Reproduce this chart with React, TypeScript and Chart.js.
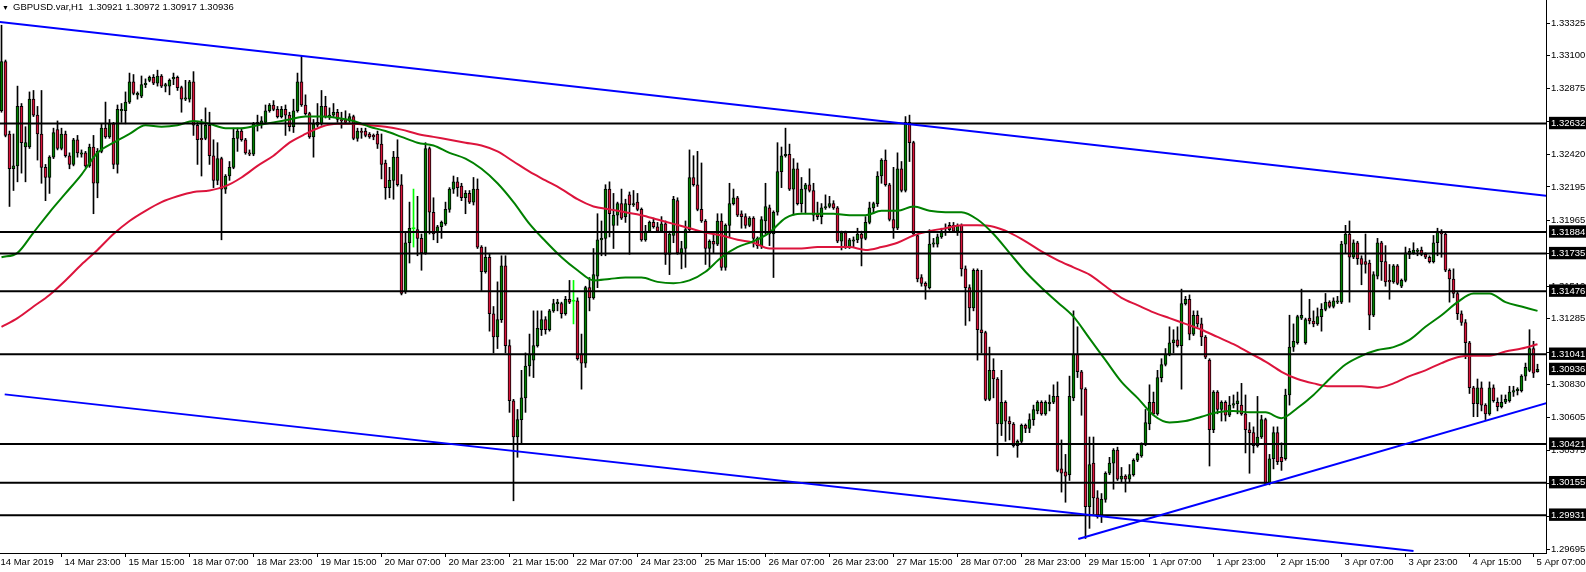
import React, { useEffect, useRef } from 'react';
import { Chart, registerables } from 'chart.js';

Chart.register(...registerables);

// ---------- DATA (GBPUSD.var, H1) ----------
const OPEN = [
  1.3272,1.3306,1.3256,1.3232,1.3234,1.3275,1.3247,1.3247,1.3280,1.3269,
  1.3256,1.3233,1.3226,1.3240,1.3259,1.3246,1.3256,1.3241,1.3235,1.3252,
  1.3242,1.3243,1.3234,1.3247,1.3222,1.3244,1.3260,1.3254,1.3263,1.3235,
  1.3272,1.3272,1.3278,1.3292,1.3283,1.3282,1.3290,1.3293,1.3295,1.3291,
  1.3296,1.3289,1.3289,1.3294,1.3295,1.3288,1.3280,1.3280,1.3292,1.3262,
  1.3253,1.3253,1.3262,1.3241,1.3224,1.3239,1.3218,1.3227,1.3233,1.3253,
  1.3258,1.3252,1.3243,1.3242,1.3263,1.3263,1.3264,1.3272,1.3276,1.3273,
  1.3268,1.3273,1.3269,1.3261,1.3272,1.3292,1.3276,1.3270,1.3254,1.3262,
  1.3263,1.3275,1.3268,1.3269,1.3271,1.3266,1.3266,1.3265,1.3268,1.3253,
  1.3258,1.3258,1.3256,1.3255,1.3256,1.3249,1.3236,1.3219,1.3224,1.3240,
  1.3221,1.3147,1.3181,1.3191,1.3190,1.3184,1.3174,1.3246,1.3202,1.3188,
  1.3192,1.3194,1.3204,1.3218,1.3223,1.3220,1.3212,1.3215,1.3209,1.3218,
  1.3178,1.3161,1.3171,1.3132,1.3116,1.3128,1.3165,1.3110,1.3072,1.3047,
  1.3059,1.3074,1.3096,1.3100,1.3110,1.3121,1.3128,1.3121,1.3134,1.3139,
  1.3139,1.3132,1.3142,1.3141,1.3141,1.3104,1.3098,1.3150,1.3143,1.3158,
  1.3183,1.3184,1.3218,1.3193,1.3200,1.3208,1.3199,1.3214,1.3207,1.3209,
  1.3204,1.3183,1.3189,1.3195,1.3192,1.3189,1.3194,1.3173,1.3186,1.3210,
  1.3174,1.3177,1.3190,1.3226,1.3221,1.3204,1.3196,1.3177,1.3182,1.3180,
  1.3196,1.3164,1.3193,1.3208,1.3212,1.3201,1.3199,1.3193,1.3198,1.3184,
  1.3179,1.3196,1.3205,1.3187,1.3202,1.3230,1.3241,1.3242,1.3218,1.3232,
  1.3208,1.3218,1.3221,1.3217,1.3201,1.3199,1.3205,1.3206,1.3208,1.3205,
  1.3182,1.3188,1.3178,1.3182,1.3183,1.3187,1.3184,1.3195,1.3205,1.3208,
  1.3227,1.3238,1.3221,1.3197,1.3191,1.3232,1.3217,1.3264,1.3250,1.3186,
  1.3157,1.3153,1.3150,1.3180,1.3180,1.3185,1.3188,1.3190,1.3193,1.3189,
  1.3193,1.3163,1.3150,1.3136,1.3162,1.3121,1.3119,1.3073,1.3093,1.3087,
  1.3056,1.3071,1.3058,1.3056,1.3041,1.3044,1.3055,1.3053,1.3059,1.3065,
  1.3071,1.3063,1.3070,1.3071,1.3075,1.3025,1.3023,1.3021,1.3074,1.3104,
  1.3092,1.3080,1.2999,1.3029,1.3005,1.2992,1.3004,1.3022,1.3029,1.3038,
  1.3018,1.3020,1.3018,1.3021,1.3031,1.3034,1.3042,1.3056,1.3071,1.3063,
  1.3088,1.3097,1.3104,1.3112,1.3114,1.3110,1.3139,1.3142,1.3118,1.3131,
  1.3125,1.3116,1.3100,1.3052,1.3078,1.3066,1.3071,1.3062,1.3069,1.3070,
  1.3069,1.3063,1.3052,1.3050,1.3041,1.3047,1.3059,1.3015,1.3032,1.3050,
  1.3033,1.3032,1.3076,1.3109,1.3112,1.3129,1.3112,1.3129,1.3127,1.3125,
  1.3130,1.3135,1.3140,1.3137,1.3140,1.3140,1.3180,1.3187,1.3171,1.3181,
  1.3170,1.3168,1.3167,1.3131,1.3158,1.3181,1.3168,1.3155,1.3154,1.3165,
  1.3151,1.3155,1.3173,1.3174,1.3175,1.3176,1.3173,1.3171,1.3168,1.3181,
  1.3188,1.3187,1.3162,1.3156,1.3146,1.3132,1.3126,1.3112,1.3081,1.3070,
  1.3081,1.3069,1.3063,1.3081,1.3071,1.3068,1.3071,1.3072,1.3078,1.3079,
  1.3079,1.3089,1.3093,1.3108,1.30921,
];
const HIGH = [
  1.3331,1.3307,1.3258,1.3256,1.3289,1.3277,1.3261,1.3285,1.3286,1.3275,
  1.3286,1.3235,1.3241,1.3260,1.3265,1.3260,1.3258,1.3243,1.3253,1.3255,
  1.3245,1.3244,1.3249,1.3255,1.3246,1.3263,1.3278,1.3266,1.3264,1.3276,
  1.3277,1.3285,1.3298,1.3297,1.3285,1.3296,1.3294,1.3296,1.3297,1.3300,
  1.3297,1.3291,1.3294,1.3298,1.3296,1.3289,1.3293,1.3293,1.3299,1.3264,
  1.3266,1.3274,1.3271,1.3252,1.3250,1.3240,1.3228,1.3237,1.3260,1.3260,
  1.3260,1.3253,1.3245,1.3264,1.3269,1.3268,1.3276,1.3277,1.3279,1.3275,
  1.3275,1.3276,1.3271,1.3280,1.3298,1.3310,1.3283,1.3271,1.3266,1.3277,
  1.3286,1.3282,1.3274,1.3277,1.3273,1.3271,1.3272,1.3270,1.3269,1.3260,
  1.3260,1.3260,1.3257,1.3256,1.3258,1.3256,1.3238,1.3233,1.3244,1.3252,
  1.3228,1.3188,1.3209,1.3218,1.3213,1.3187,1.3250,1.3247,1.3212,1.3193,
  1.3196,1.3209,1.3219,1.3227,1.3226,1.3222,1.3217,1.3217,1.3226,1.3225,
  1.3179,1.3178,1.3173,1.3137,1.3154,1.3172,1.3172,1.3114,1.3073,1.3066,
  1.3093,1.3105,1.3118,1.3134,1.3134,1.3134,1.3130,1.3135,1.3142,1.3142,
  1.3140,1.3144,1.3155,1.3155,1.3143,1.3118,1.3151,1.3157,1.3177,1.3201,
  1.3196,1.3221,1.3223,1.3215,1.3209,1.3218,1.3211,1.3216,1.3217,1.3215,
  1.3205,1.3193,1.3196,1.3198,1.3195,1.3199,1.3196,1.3189,1.3213,1.3212,
  1.3182,1.3196,1.3245,1.3241,1.3244,1.3236,1.3197,1.3183,1.3188,1.3201,
  1.3201,1.3194,1.3222,1.3218,1.3213,1.3203,1.3201,1.3199,1.3199,1.3185,
  1.3199,1.3222,1.3207,1.3203,1.3250,1.3247,1.3260,1.3249,1.3239,1.3236,
  1.3226,1.3222,1.3232,1.3222,1.3209,1.3208,1.3214,1.3213,1.3210,1.3206,
  1.3189,1.3189,1.3184,1.3185,1.3191,1.3189,1.3199,1.3209,1.3209,1.3230,
  1.3239,1.3245,1.3222,1.3233,1.3243,1.3237,1.3268,1.3269,1.3251,1.3187,
  1.3159,1.3154,1.3190,1.3184,1.3187,1.3191,1.3194,1.3195,1.3195,1.3194,
  1.3194,1.3165,1.3152,1.3163,1.3163,1.3162,1.3120,1.3109,1.3101,1.3088,
  1.3093,1.3072,1.3061,1.3057,1.3045,1.3056,1.3056,1.3063,1.3069,1.3072,
  1.3072,1.3072,1.3076,1.3083,1.3085,1.3045,1.3035,1.3089,1.3134,1.3123,
  1.3093,1.3081,1.3047,1.3047,1.3010,1.3008,1.3023,1.3033,1.3039,1.3040,
  1.3026,1.3021,1.3028,1.3032,1.3036,1.3043,1.3066,1.3083,1.3078,1.3093,
  1.3101,1.3108,1.3123,1.3121,1.3123,1.3149,1.3144,1.3145,1.3134,1.3134,
  1.3129,1.3117,1.3101,1.3079,1.3079,1.3072,1.3072,1.3075,1.3076,1.3078,
  1.3084,1.3076,1.3057,1.3054,1.3075,1.3062,1.3060,1.3035,1.3054,1.3054,
  1.3043,1.3080,1.3131,1.3125,1.3131,1.3149,1.3129,1.3142,1.3134,1.3136,
  1.3139,1.3146,1.3141,1.3143,1.3144,1.3182,1.3193,1.3196,1.3183,1.3182,
  1.3172,1.3187,1.3169,1.3161,1.3184,1.3182,1.3179,1.3166,1.3166,1.3166,
  1.3156,1.3178,1.3177,1.3181,1.3177,1.3178,1.3174,1.3172,1.3186,1.3191,
  1.3190,1.3188,1.3163,1.3163,1.3147,1.3134,1.3128,1.3113,1.3082,1.3087,
  1.3085,1.3070,1.3085,1.3083,1.3074,1.3076,1.3076,1.3082,1.3082,1.3081,
  1.3090,1.3098,1.3121,1.3113,1.30972,
];
const LOW = [
  1.3271,1.3254,1.3206,1.3217,1.3223,1.3229,1.3223,1.3246,1.3268,1.3238,
  1.3222,1.3210,1.3215,1.3239,1.3245,1.3245,1.3240,1.3232,1.3234,1.3240,
  1.3240,1.3233,1.3233,1.3201,1.3212,1.3243,1.3253,1.3253,1.3232,1.3229,
  1.3264,1.3263,1.3277,1.3283,1.3280,1.3281,1.3288,1.3292,1.3290,1.3289,
  1.3288,1.3285,1.3283,1.3290,1.3286,1.3271,1.3279,1.3278,1.3255,1.3235,
  1.3227,1.3252,1.3235,1.3219,1.3221,1.3183,1.3215,1.3224,1.3232,1.3244,
  1.3251,1.3242,1.3241,1.3241,1.3258,1.3260,1.3263,1.3271,1.3272,1.3267,
  1.3267,1.3255,1.3258,1.3257,1.3271,1.3275,1.3269,1.3253,1.3240,1.3261,
  1.3262,1.3267,1.3266,1.3268,1.3264,1.3260,1.3263,1.3264,1.3252,1.3251,
  1.3253,1.3254,1.3253,1.3252,1.3246,1.3225,1.3211,1.3212,1.3211,1.3220,
  1.3145,1.3146,1.3167,1.3178,1.3172,1.3162,1.3173,1.3187,1.3183,1.3181,
  1.3184,1.3193,1.3202,1.3215,1.3213,1.3210,1.3201,1.3208,1.3207,1.3177,
  1.3148,1.3160,1.3120,1.3105,1.3108,1.3126,1.3105,1.3064,1.3003,1.3033,
  1.3042,1.3064,1.3089,1.3088,1.3109,1.3117,1.3118,1.3120,1.3133,1.3134,
  1.3129,1.3131,1.3139,1.3125,1.3100,1.3080,1.3095,1.3134,1.3142,1.3150,
  1.3172,1.3172,1.3185,1.3177,1.3193,1.3197,1.3195,1.3173,1.3206,1.3203,
  1.3182,1.3182,1.3188,1.3191,1.3188,1.3188,1.3166,1.3159,1.3181,1.3173,
  1.3163,1.3164,1.3188,1.3220,1.3203,1.3195,1.3166,1.3164,1.3174,1.3179,
  1.3162,1.3162,1.3185,1.3207,1.3199,1.3191,1.3191,1.3192,1.3178,1.3177,
  1.3177,1.3187,1.3179,1.3157,1.3200,1.3219,1.3240,1.3217,1.3200,1.3207,
  1.3202,1.3201,1.3216,1.3196,1.3197,1.3194,1.3204,1.3205,1.3204,1.3181,
  1.3176,1.3177,1.3177,1.3178,1.3181,1.3165,1.3183,1.3194,1.3201,1.3206,
  1.3222,1.3220,1.3196,1.3184,1.3190,1.3216,1.3216,1.3237,1.3186,1.3154,
  1.3151,1.3142,1.3149,1.3178,1.3178,1.3184,1.3186,1.3189,1.3188,1.3186,
  1.3158,1.3124,1.3127,1.3134,1.3100,1.3105,1.3072,1.3072,1.3074,1.3034,
  1.3048,1.3044,1.3045,1.3040,1.3033,1.3043,1.3050,1.3050,1.3055,1.3063,
  1.3062,1.3062,1.3065,1.3070,1.3023,1.3009,1.3002,1.3017,1.3072,1.3088,
  1.3062,1.2977,1.2984,1.2994,1.2991,1.2988,1.3002,1.3021,1.3011,1.3017,
  1.3016,1.3009,1.3016,1.3020,1.3030,1.3033,1.3041,1.3052,1.3062,1.3062,
  1.3085,1.3096,1.3103,1.3105,1.3109,1.3080,1.3138,1.3114,1.3117,1.3123,
  1.3110,1.3101,1.3027,1.3050,1.3063,1.3058,1.3058,1.3061,1.3067,1.3063,
  1.3062,1.3036,1.3022,1.3036,1.3040,1.3046,1.3014,1.3014,1.3025,1.3028,
  1.3024,1.3031,1.3069,1.3106,1.3111,1.3128,1.3111,1.3125,1.3123,1.3124,
  1.3120,1.3134,1.3136,1.3136,1.3139,1.3139,1.3174,1.3140,1.3170,1.3166,
  1.3152,1.3160,1.3121,1.3130,1.3156,1.3155,1.3151,1.3142,1.3153,1.3152,
  1.3150,1.3154,1.3170,1.3173,1.3172,1.3172,1.3170,1.3167,1.3167,1.3172,
  1.3171,1.3161,1.3140,1.3143,1.3128,1.3124,1.3101,1.3077,1.3061,1.3061,
  1.3065,1.3059,1.3062,1.3071,1.3065,1.3067,1.3070,1.3071,1.3075,1.3076,
  1.3078,1.3086,1.3092,1.3088,1.30917,
];
const CLOSE = [
  1.3306,1.3255,1.3232,1.3234,1.3275,1.3250,1.3250,1.3280,1.3269,1.3256,
  1.3233,1.3226,1.3240,1.3257,1.3246,1.3256,1.3241,1.3235,1.3252,1.3243,
  1.3243,1.3234,1.3247,1.3222,1.3244,1.3260,1.3254,1.3263,1.3235,1.3273,
  1.3273,1.3278,1.3292,1.3284,1.3284,1.3290,1.3291,1.3295,1.3291,1.3296,
  1.3289,1.3290,1.3293,1.3295,1.3288,1.3280,1.3281,1.3292,1.3262,1.3252,
  1.3252,1.3262,1.3241,1.3224,1.3239,1.3218,1.3227,1.3233,1.3253,1.3258,
  1.3252,1.3243,1.3242,1.3263,1.3264,1.3265,1.3272,1.3276,1.3273,1.3268,
  1.3273,1.3269,1.3261,1.3272,1.3292,1.3276,1.3270,1.3254,1.3263,1.3264,
  1.3275,1.3268,1.3269,1.3271,1.3266,1.3265,1.3264,1.3268,1.3253,1.3258,
  1.3257,1.3255,1.3254,1.3254,1.3249,1.3235,1.3219,1.3224,1.3240,1.3221,
  1.3146,1.3181,1.3191,1.3191,1.3184,1.3174,1.3246,1.3202,1.3187,1.3192,
  1.3195,1.3204,1.3218,1.3223,1.3219,1.3212,1.3215,1.3209,1.3218,1.3178,
  1.3161,1.3171,1.3132,1.3116,1.3128,1.3165,1.3110,1.3072,1.3047,1.3059,
  1.3074,1.3096,1.3104,1.3110,1.3122,1.3128,1.3121,1.3134,1.3139,1.3140,
  1.3132,1.3142,1.3140,1.3141,1.3101,1.3098,1.3150,1.3143,1.3159,1.3183,
  1.3184,1.3218,1.3201,1.3200,1.3208,1.3198,1.3208,1.3207,1.3208,1.3204,
  1.3183,1.3189,1.3195,1.3192,1.3189,1.3194,1.3173,1.3187,1.3211,1.3174,
  1.3177,1.3190,1.3226,1.3221,1.3204,1.3196,1.3177,1.3182,1.3180,1.3196,
  1.3164,1.3193,1.3208,1.3212,1.3200,1.3199,1.3193,1.3198,1.3184,1.3179,
  1.3197,1.3206,1.3187,1.3202,1.3230,1.3241,1.3242,1.3218,1.3232,1.3208,
  1.3218,1.3221,1.3217,1.3200,1.3199,1.3205,1.3206,1.3208,1.3205,1.3182,
  1.3188,1.3178,1.3183,1.3183,1.3187,1.3184,1.3195,1.3205,1.3208,1.3227,
  1.3238,1.3221,1.3197,1.3191,1.3232,1.3217,1.3264,1.3250,1.3187,1.3156,
  1.3153,1.3151,1.3180,1.3181,1.3185,1.3189,1.3189,1.3193,1.3189,1.3193,
  1.3163,1.3150,1.3136,1.3162,1.3121,1.3119,1.3073,1.3093,1.3087,1.3056,
  1.3071,1.3058,1.3056,1.3041,1.3044,1.3055,1.3053,1.3059,1.3066,1.3071,
  1.3063,1.3071,1.3071,1.3075,1.3024,1.3022,1.3020,1.3075,1.3104,1.3092,
  1.3080,1.2999,1.3028,1.3005,1.2992,1.3004,1.3022,1.3029,1.3038,1.3018,
  1.3020,1.3018,1.3021,1.3031,1.3035,1.3042,1.3057,1.3071,1.3063,1.3088,
  1.3097,1.3104,1.3112,1.3114,1.3110,1.3139,1.3142,1.3118,1.3131,1.3125,
  1.3116,1.3102,1.3052,1.3078,1.3066,1.3071,1.3062,1.3069,1.3070,1.3072,
  1.3063,1.3052,1.3050,1.3041,1.3047,1.3059,1.3015,1.3032,1.3050,1.3030,
  1.3030,1.3076,1.3109,1.3113,1.3130,1.3131,1.3128,1.3127,1.3125,1.3130,
  1.3135,1.3140,1.3137,1.3141,1.3141,1.3180,1.3187,1.3171,1.3181,1.3170,
  1.3166,1.3166,1.3131,1.3159,1.3181,1.3168,1.3154,1.3154,1.3165,1.3153,
  1.3155,1.3174,1.3175,1.3176,1.3176,1.3173,1.3171,1.3168,1.3181,1.3189,
  1.3187,1.3162,1.3156,1.3146,1.3132,1.3126,1.3112,1.3081,1.3070,1.3081,
  1.3069,1.3063,1.3081,1.3072,1.3068,1.3071,1.3073,1.3078,1.3079,1.3080,
  1.3089,1.3095,1.3108,1.3091,1.30936,
];

// Moving averages, one value every MA_STEP bars (bar 0, 4, 8 ...)
const MA_STEP = 4;
const MA_FAST = [
  1.3171,1.3174,1.3188,1.3202,1.3215,1.3228,1.3243,1.3250,1.3256,1.3262,1.3261,1.3262,1.3265,
  1.3263,1.3260,1.3260,1.3262,1.3264,1.3266,1.3268,1.3268,1.3267,1.3265,1.3261,1.3258,
  1.3254,1.3250,1.3248,1.3243,1.3239,1.3232,1.3222,1.3209,1.3194,1.3182,1.3171,1.3162,
  1.3155,1.3156,1.3157,1.3157,1.3154,1.3153,1.3155,1.3161,1.3171,1.3178,1.3182,1.3188,
  1.3198,1.3201,1.3201,1.3201,1.3200,1.3200,1.3203,1.3203,1.3206,1.3203,1.3202,1.3202,
  1.3197,1.3187,1.3174,1.3161,1.3150,1.3140,1.3130,1.3115,1.3100,1.3085,1.3074,1.3062,
  1.3057,1.3058,1.3061,1.3064,1.3065,1.3064,1.3064,1.3060,1.3067,1.3076,1.3087,1.3097,
  1.3103,1.3107,1.3109,1.3114,1.3123,1.3131,1.3140,1.3146,1.3146,1.3140,1.3137,1.3134,
];
const MA_SLOW = [
  1.3123,1.3129,1.3137,1.3145,1.3155,1.3166,1.3176,1.3187,1.3196,1.3203,1.3209,1.3213,1.3216,
  1.3217,1.3220,1.3226,1.3234,1.3241,1.3250,1.3256,1.3261,1.3263,1.3263,1.3262,1.3261,
  1.3259,1.3256,1.3254,1.3252,1.3250,1.3248,1.3244,1.3237,1.3230,1.3224,1.3218,1.3211,
  1.3206,1.3204,1.3202,1.3200,1.3197,1.3194,1.3191,1.3188,1.3186,1.3183,1.3181,1.3177,
  1.3177,1.3177,1.3178,1.3178,1.3178,1.3176,1.3178,1.3181,1.3186,1.3189,1.3191,1.3193,
  1.3193,1.3192,1.3188,1.3182,1.3175,1.3169,1.3164,1.3159,1.3151,1.3143,1.3138,1.3133,
  1.3129,1.3125,1.3121,1.3116,1.3111,1.3105,1.3099,1.3092,1.3087,1.3084,1.3082,1.3082,
  1.3082,1.3081,1.3084,1.3089,1.3093,1.3098,1.3102,1.3103,1.3103,1.3106,1.3108,1.3111,
];

// Horizontal support / resistance levels
const LEVELS = [1.32632, 1.31884, 1.31735, 1.31476, 1.31041, 1.30421, 1.30155, 1.29931];
const LAST_PRICE = 1.30936;

// Trend lines: [bar index, price] anchors
const TREND_UPPER_IDX = [-1, 387];
const TREND_UPPER_PRICE = [1.33334, 1.32132];
const TREND_LOWER_IDX = [0.8, 353];
const TREND_LOWER_PRICE = [1.30764, 1.29684];
const TREND_UP_IDX = [269.2, 387];
const TREND_UP_PRICE = [1.29766, 1.30710];

// Price-axis tick values
const PRICE_TICKS = [
  1.33325, 1.331, 1.32875, 1.32645, 1.3242, 1.32195, 1.31965, 1.31735, 1.3151,
  1.31285, 1.31055, 1.3083, 1.30605, 1.30375, 1.3015, 1.2992, 1.29695,
];

// Time-axis labels, one every 16 bars, first at bar -1
const TIME_LABELS = [
  '14 Mar 2019', '14 Mar 23:00', '15 Mar 15:00', '18 Mar 07:00', '18 Mar 23:00',
  '19 Mar 15:00', '20 Mar 07:00', '20 Mar 23:00', '21 Mar 15:00', '22 Mar 07:00',
  '24 Mar 23:00', '25 Mar 15:00', '26 Mar 07:00', '26 Mar 23:00', '27 Mar 15:00',
  '28 Mar 07:00', '28 Mar 23:00', '29 Mar 15:00', '1 Apr 07:00', '1 Apr 23:00',
  '2 Apr 15:00', '3 Apr 07:00', '3 Apr 23:00', '4 Apr 15:00', '5 Apr 07:00',
];
const TIME_LABEL_STEP = 16;
const TIME_LABEL_FIRST = -1;

const HEADER = 'GBPUSD.var,H1  1.30921 1.30972 1.30917 1.30936';

// ---------- STYLE ----------
const W = 1586;
const H = 572;
const Y_AXIS_W = 40;
const X_AXIS_H = 19;
const X_MIN = -0.375;
const X_MAX = 386.125;
const Y_MIN = 1.2967;
const Y_MAX = 1.33484;
const FONT = '"Liberation Sans", Arial, sans-serif';
const BULL = '#008000';
const BEAR = '#d8143a';
const DOJI = '#00ff00';
const MA_FAST_COLOR = '#008000';
const MA_SLOW_COLOR = '#dc143c';
const BLUE = '#0000ff';

export default function App() {
  const canvasRef = useRef<HTMLCanvasElement | null>(null);

  useEffect(() => {
    document.body.style.margin = '0';
    const canvas = canvasRef.current;
    if (!canvas) return;

    const n = CLOSE.length;
    const isDoji = (i: number) => OPEN[i] === CLOSE[i];
    const wicks = Array.from({ length: n }, (_, i) => ({ x: i, y: [LOW[i], HIGH[i]] }));
    const bodies = Array.from({ length: n }, (_, i) => ({
      x: i,
      y: isDoji(i) ? [OPEN[i] - 0.00003, OPEN[i] + 0.00003] : [OPEN[i], CLOSE[i]],
    }));

    const lineBase = { type: 'line', pointRadius: 0, pointHoverRadius: 0, fill: false };

    const datasets: any[] = [
      {
        type: 'bar',
        label: 'wick',
        data: wicks,
        backgroundColor: (c: any) => (isDoji(c.dataIndex) ? DOJI : '#000000'),
        borderWidth: 0,
        barThickness: 1,
        grouped: false,
        order: 10,
      },
      {
        type: 'bar',
        label: 'body',
        data: bodies,
        backgroundColor: (c: any) =>
          isDoji(c.dataIndex) ? DOJI : CLOSE[c.dataIndex] > OPEN[c.dataIndex] ? BULL : BEAR,
        borderColor: '#000000',
        borderWidth: (c: any) => (isDoji(c.dataIndex) ? 0 : 1),
        borderSkipped: false,
        barThickness: 3,
        grouped: false,
        order: 9,
      },
      {
        ...lineBase,
        label: 'MA slow',
        data: MA_SLOW.map((v, k) => ({ x: k * MA_STEP, y: v })),
        borderColor: MA_SLOW_COLOR,
        borderWidth: 2,
        cubicInterpolationMode: 'monotone',
        order: 7,
      },
      {
        ...lineBase,
        label: 'MA fast',
        data: MA_FAST.map((v, k) => ({ x: k * MA_STEP, y: v })),
        borderColor: MA_FAST_COLOR,
        borderWidth: 2,
        cubicInterpolationMode: 'monotone',
        order: 6,
      },
      ...LEVELS.map((v) => ({
        ...lineBase,
        label: 'level ' + v,
        data: [
          { x: X_MIN - 1, y: v },
          { x: X_MAX + 1, y: v },
        ],
        borderColor: '#000000',
        borderWidth: 2,
        order: 5,
      })),
      {
        ...lineBase,
        label: 'upper channel',
        data: TREND_UPPER_IDX.map((x, k) => ({ x, y: TREND_UPPER_PRICE[k] })),
        borderColor: BLUE,
        borderWidth: 2,
        order: 4,
      },
      {
        ...lineBase,
        label: 'lower channel',
        data: TREND_LOWER_IDX.map((x, k) => ({ x, y: TREND_LOWER_PRICE[k] })),
        borderColor: BLUE,
        borderWidth: 2,
        order: 4,
      },
      {
        ...lineBase,
        label: 'uptrend',
        data: TREND_UP_IDX.map((x, k) => ({ x, y: TREND_UP_PRICE[k] })),
        borderColor: BLUE,
        borderWidth: 2,
        order: 4,
      },
    ];

    const boxStart = PRICE_TICKS.length;
    const yTickValues = [...PRICE_TICKS, ...LEVELS, LAST_PRICE];

    const chart = new Chart(canvas, {
      type: 'bar',
      data: { datasets },
      options: {
        animation: false,
        responsive: false,
        devicePixelRatio: 1,
        events: [],
        layout: { padding: 0 },
        plugins: {
          legend: { display: false },
          tooltip: { enabled: false },
          title: { display: false },
        },
        scales: {
          x: {
            type: 'linear',
            position: 'bottom',
            min: X_MIN,
            max: X_MAX,
            offset: false,
            grid: {
              display: true,
              offset: false,
              drawOnChartArea: false,
              drawTicks: true,
              tickLength: 4,
              color: '#000000',
              tickColor: '#000000',
              lineWidth: 1,
            },
            border: { display: true, color: '#000000', width: 1 },
            ticks: {
              autoSkip: false,
              maxRotation: 0,
              minRotation: 0,
              align: 'start',
              labelOffset: 3,
              padding: 0,
              color: '#000000',
              font: { family: FONT, size: 9.5 },
              callback: (v: any) => {
                const k = Math.round((Number(v) - TIME_LABEL_FIRST) / TIME_LABEL_STEP);
                return TIME_LABELS[k] ?? '';
              },
            },
            afterBuildTicks: (s: any) => {
              s.ticks = TIME_LABELS.map((_, k) => ({ value: TIME_LABEL_FIRST + k * TIME_LABEL_STEP }));
            },
            afterFit: (s: any) => {
              s.height = X_AXIS_H;
              s.paddingLeft = 0;
              s.paddingRight = 0;
            },
          },
          y: {
            type: 'linear',
            position: 'right',
            min: Y_MIN,
            max: Y_MAX,
            bounds: 'data',
            beginAtZero: false,
            grid: {
              display: true,
              drawOnChartArea: false,
              drawTicks: true,
              tickLength: 4,
              color: (c: any) => (c.index >= boxStart ? 'rgba(0,0,0,0)' : '#000000'),
              lineWidth: 1,
            },
            border: { display: true, color: '#000000', width: 1 },
            ticks: {
              autoSkip: false,
              padding: 1,
              color: (c: any) => (c.index >= boxStart ? '#ffffff' : '#000000'),
              showLabelBackdrop: (c: any) => c.index >= boxStart,
              backdropColor: '#000000',
              backdropPadding: { left: 2, right: 6, top: 1, bottom: 0 },
              font: { family: FONT, size: 9.5 },
              callback: (v: any) => Number(v).toFixed(5),
            },
            afterBuildTicks: (s: any) => {
              s.ticks = yTickValues.map((v) => ({ value: v }));
            },
            afterFit: (s: any) => {
              s.width = Y_AXIS_W;
              s.paddingTop = 0;
              s.paddingBottom = 0;
            },
          },
        },
      } as any,
    } as any);

    return () => chart.destroy();
  }, []);

  return (
    <div style={{ position: 'relative', width: W, height: H, background: '#ffffff', overflow: 'hidden' }}>
      <canvas ref={canvasRef} width={W} height={H} style={{ display: 'block', width: W, height: H }} />
      <div
        style={{
          position: 'absolute',
          left: 2,
          top: 1,
          fontFamily: FONT,
          fontSize: 9.5,
          lineHeight: '12px',
          color: '#000000',
          whiteSpace: 'pre',
        }}
      >
        <span style={{ fontSize: 7, display: 'inline-block', width: 11 }}>▼</span>
        {HEADER}
      </div>
    </div>
  );
}
